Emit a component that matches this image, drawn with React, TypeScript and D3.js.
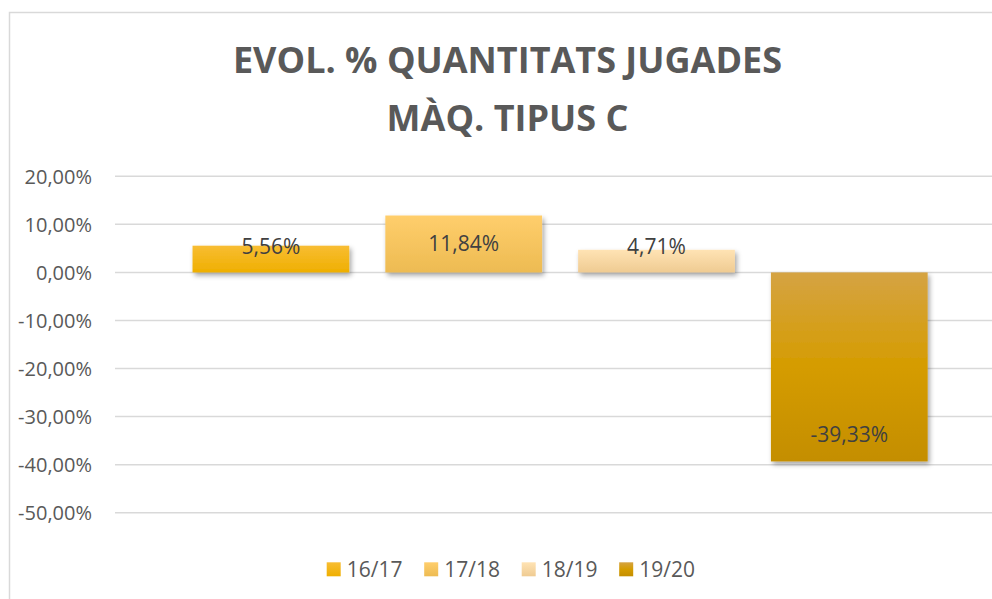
import React from "react";
import * as d3 from "d3";

const seriesNames = ["16/17", "17/18", "18/19", "19/20"];
const values = [0.0556, 0.1184, 0.0471, -0.3933];
const yTicks = [0.2, 0.1, 0, -0.1, -0.2, -0.3, -0.4, -0.5];
const titleLines = ["EVOL. % QUANTITATS JUGADES", "MÀQ. TIPUS C"];
const gradients = [
  [["0%", "#F8BD33"], ["100%", "#EFAF00"]],
  [["0%", "#FFCE6C"], ["100%", "#EDBB52"]],
  [["0%", "#FFE3B4"], ["100%", "#EFCB92"]],
  [["0%", "#D5A343"], ["50%", "#D59C00"], ["100%", "#C48E00"]],
];

const W = 992;
const H = 599;

const fmt = (v: number) =>
  (v * 100).toFixed(2).replace(".", ",") + "%";

export default function App() {
  const y = d3.scaleLinear().domain([-0.5, 0.2]).range([512.7, 176.3]);
  const x = d3
    .scaleBand<string>()
    .domain(seriesNames)
    .range([174.5, 945.7])
    .paddingInner(0.187)
    .paddingOuter(0.0935);
  const y0 = y(0);
  const font = "'Open Sans', 'DejaVu Sans', sans-serif";

  return (
    <svg
      width={W}
      height={H}
      style={{ position: "absolute", left: 0, top: 0 }}
      fontFamily={font}
    >
      <defs>
        {gradients.map((g, i) => (
          <linearGradient key={i} id={`g${i}`} x1="0" y1="0" x2="0" y2="1">
            {g.map(([o, c], j) => (
              <stop key={j} offset={o} stopColor={c} />
            ))}
          </linearGradient>
        ))}
        <filter id="sh" x="-10%" y="-10%" width="130%" height="140%">
          <feDropShadow dx="2" dy="3" stdDeviation="2.5" floodColor="#000" floodOpacity="0.35" />
        </filter>
      </defs>
      <rect x={0} y={0} width={W} height={H} fill="#fff" />
      <rect
        x={9.5}
        y={12.5}
        width={1100}
        height={700}
        fill="#fff"
        stroke="#D9D9D9"
        strokeWidth={1.5}
      />
      {titleLines.map((t, i) => (
        <text
          key={i}
          x={507.5}
          y={72.7 + i * 57.8}
          textAnchor="middle"
          fontSize={36}
          fontWeight="bold"
          fill="#595959"
        >
          {t}
        </text>
      ))}
      {yTicks.map((t) => (
        <g key={t}>
          <line
            x1={115}
            x2={W}
            y1={y(t)}
            y2={y(t)}
            stroke="#D9D9D9"
            strokeWidth={1.5}
          />
          <text
            x={92}
            y={y(t) + 7.5}
            textAnchor="end"
            fontSize={20}
            fill="#595959"
          >
            {fmt(t)}
          </text>
        </g>
      ))}
      {values.map((v, i) => {
        const name = seriesNames[i];
        const bx = x(name)!;
        const top = y(Math.max(v, 0));
        const bot = y(Math.min(v, 0));
        const cx = bx + x.bandwidth() / 2;
        const ly =
          v >= 0 ? Math.min((top + bot) / 2, y0 - 25.5) : bot - 26.5;
        return (
          <g key={name}>
            <rect
              x={bx}
              y={top}
              width={x.bandwidth()}
              height={bot - top}
              fill={`url(#g${i})`}
              filter="url(#sh)"
            />
            <text
              x={cx}
              y={ly + 7.5}
              textAnchor="middle"
              fontSize={21}
              fill="#404040"
            >
              {fmt(v)}
            </text>
          </g>
        );
      })}
      {seriesNames.map((n, i) => {
        const lx = 326.7 + i * 97.5;
        return (
          <g key={n}>
            <rect x={lx} y={562.3} width={14} height={14} fill={`url(#g${i})`} />
            <text x={lx + 20} y={576.5} fontSize={21} fill="#595959">
              {n}
            </text>
          </g>
        );
      })}
    </svg>
  );
}
